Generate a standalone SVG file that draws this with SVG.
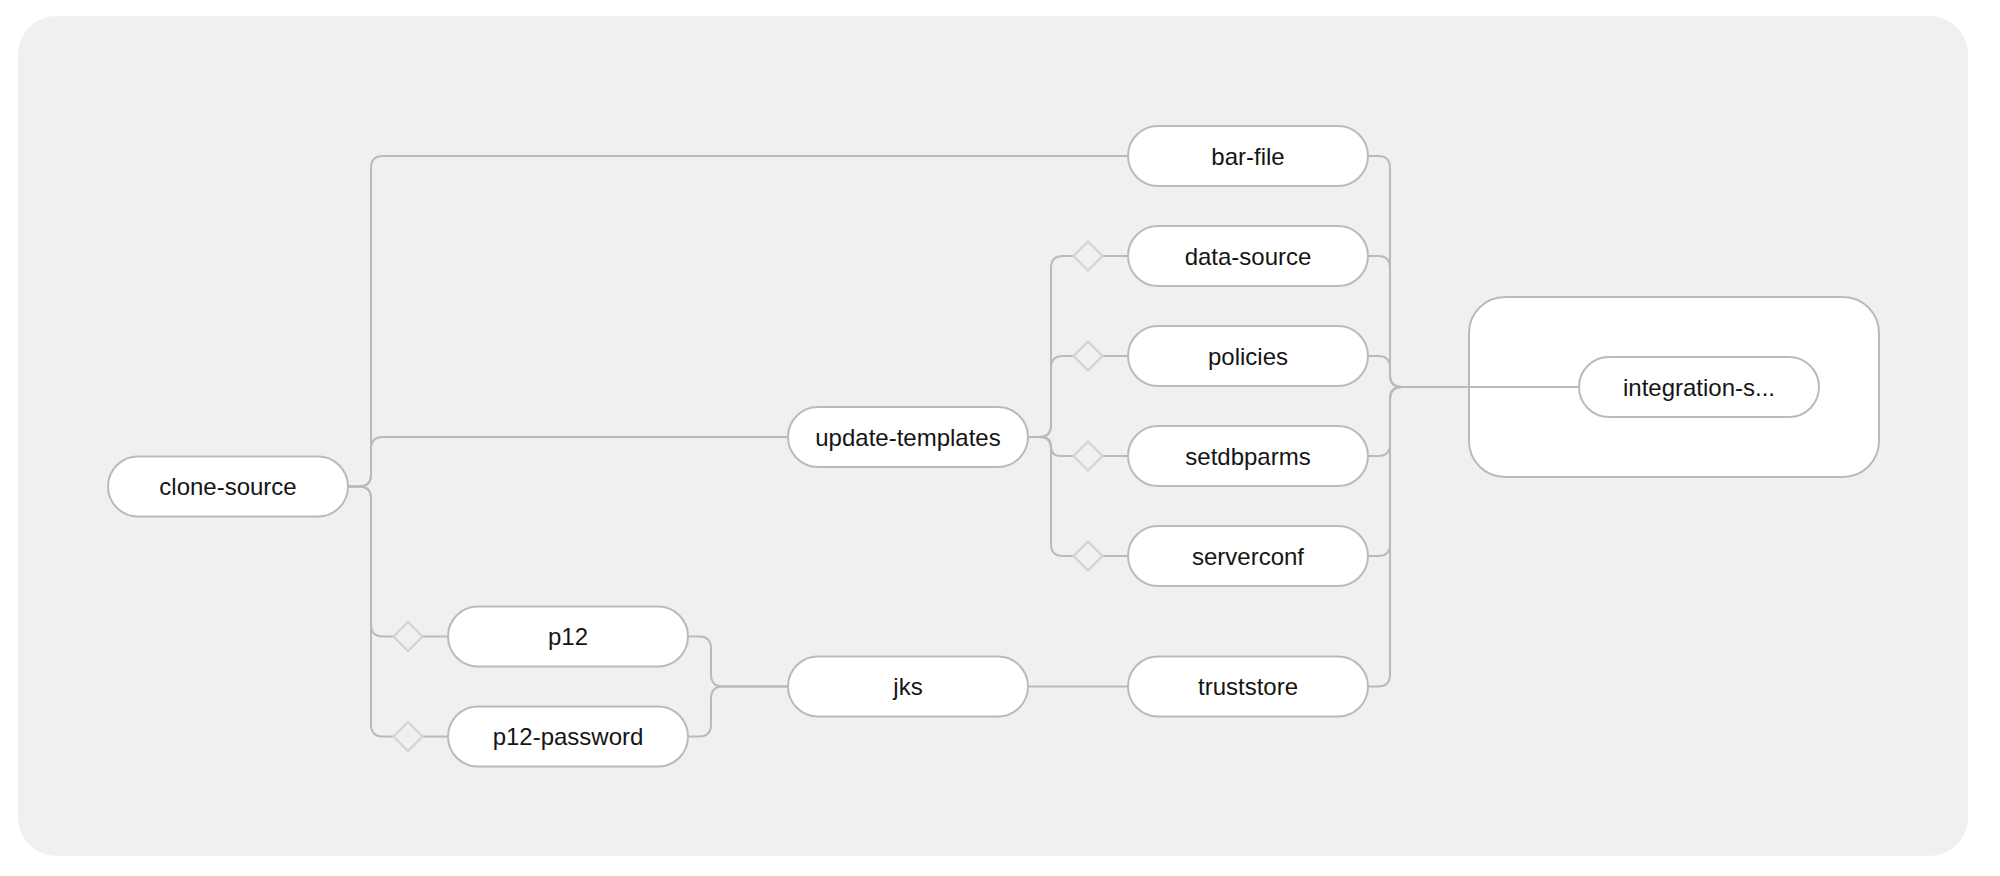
<svg xmlns="http://www.w3.org/2000/svg" width="2000" height="876" viewBox="0 0 2000 876">
<style>
.bg{fill:#f0f0f0}
.pill{fill:#ffffff;stroke:#b8bbbe;stroke-width:2}
.box{fill:#ffffff;stroke:#b8bbbe;stroke-width:2}
.edge{fill:none;stroke:#b8bbbe;stroke-width:2}
.when{fill:#f0f0f0;stroke:#d2d2d2;stroke-width:2}
.lbl{font-family:"Liberation Sans",Arial,sans-serif;font-size:24px;fill:#151515;text-anchor:middle}
</style>
<defs>
<polygon id="dia" points="-14.5,0 0,-14.5 14.5,0 0,14.5"/>
</defs>
<rect class="bg" x="18" y="16" width="1950" height="840" rx="38"/>
<g id="finally-box">
<rect class="box" x="1469" y="297" width="410" height="180" rx="36"/>
</g>
<g id="connectors">
<path class="edge" d="M348 486.5 H359 Q371 486.5 371 474.5 V168 Q371 156 383 156 H1128"/>
<path class="edge" d="M348 486.5 H359 Q371 486.5 371 474.5 V449 Q371 437 383 437 H788"/>
<path class="edge" d="M348 486.5 H359 Q371 486.5 371 498.5 V624.5 Q371 636.5 383 636.5 H448"/>
<path class="edge" d="M348 486.5 H359 Q371 486.5 371 498.5 V724.5 Q371 736.5 383 736.5 H448"/>
<path class="edge" d="M1028 437 H1039 Q1051 437 1051 425 V268 Q1051 256 1063 256 H1128"/>
<path class="edge" d="M1028 437 H1039 Q1051 437 1051 425 V368 Q1051 356 1063 356 H1128"/>
<path class="edge" d="M1028 437 H1041.5 Q1051 437 1051 446.5 Q1051 456 1060.5 456 H1128"/>
<path class="edge" d="M1028 437 H1039 Q1051 437 1051 449 V544 Q1051 556 1063 556 H1128"/>
<path class="edge" d="M688 636.5 H699 Q711 636.5 711 648.5 V674.5 Q711 686.5 723 686.5 H788"/>
<path class="edge" d="M688 736.5 H699 Q711 736.5 711 724.5 V698.5 Q711 686.5 723 686.5 H788"/>
<path class="edge" d="M1028 686.5 H1128"/>
<path class="edge" d="M1368 156 H1378 Q1390 156 1390 168 V375 Q1390 387 1402 387 H1579"/>
<path class="edge" d="M1368 256 H1378 Q1390 256 1390 268 V375 Q1390 387 1402 387 H1579"/>
<path class="edge" d="M1368 356 H1378 Q1390 356 1390 368 V375 Q1390 387 1402 387 H1579"/>
<path class="edge" d="M1368 456 H1378 Q1390 456 1390 444 V399 Q1390 387 1402 387 H1579"/>
<path class="edge" d="M1368 556 H1378 Q1390 556 1390 544 V399 Q1390 387 1402 387 H1579"/>
<path class="edge" d="M1368 686.5 H1378 Q1390 686.5 1390 674.5 V399 Q1390 387 1402 387 H1579"/>
<use href="#dia" class="when" x="408" y="636.5"/>
<use href="#dia" class="when" x="408" y="736.5"/>
<use href="#dia" class="when" x="1088" y="256"/>
<use href="#dia" class="when" x="1088" y="356"/>
<use href="#dia" class="when" x="1088" y="456"/>
<use href="#dia" class="when" x="1088" y="556"/>
</g>
<g id="clone-source"><rect class="pill" x="108" y="456.5" width="240" height="60" rx="30"/><text class="lbl" x="228" y="495">clone-source</text></g>
<g id="update-templates"><rect class="pill" x="788" y="407" width="240" height="60" rx="30"/><text class="lbl" x="908" y="445.5">update-templates</text></g>
<g id="p12"><rect class="pill" x="448" y="606.5" width="240" height="60" rx="30"/><text class="lbl" x="568" y="645">p12</text></g>
<g id="p12-password"><rect class="pill" x="448" y="706.5" width="240" height="60" rx="30"/><text class="lbl" x="568" y="745">p12-password</text></g>
<g id="jks"><rect class="pill" x="788" y="656.5" width="240" height="60" rx="30"/><text class="lbl" x="908" y="695">jks</text></g>
<g id="bar-file"><rect class="pill" x="1128" y="126" width="240" height="60" rx="30"/><text class="lbl" x="1248" y="164.5">bar-file</text></g>
<g id="data-source"><rect class="pill" x="1128" y="226" width="240" height="60" rx="30"/><text class="lbl" x="1248" y="264.5">data-source</text></g>
<g id="policies"><rect class="pill" x="1128" y="326" width="240" height="60" rx="30"/><text class="lbl" x="1248" y="364.5">policies</text></g>
<g id="setdbparms"><rect class="pill" x="1128" y="426" width="240" height="60" rx="30"/><text class="lbl" x="1248" y="464.5">setdbparms</text></g>
<g id="serverconf"><rect class="pill" x="1128" y="526" width="240" height="60" rx="30"/><text class="lbl" x="1248" y="564.5">serverconf</text></g>
<g id="truststore"><rect class="pill" x="1128" y="656.5" width="240" height="60" rx="30"/><text class="lbl" x="1248" y="695">truststore</text></g>
<g id="integration-server"><rect class="pill" x="1579" y="357" width="240" height="60" rx="30"/><text class="lbl" x="1699" y="395.5">integration-s...</text></g>
</svg>
